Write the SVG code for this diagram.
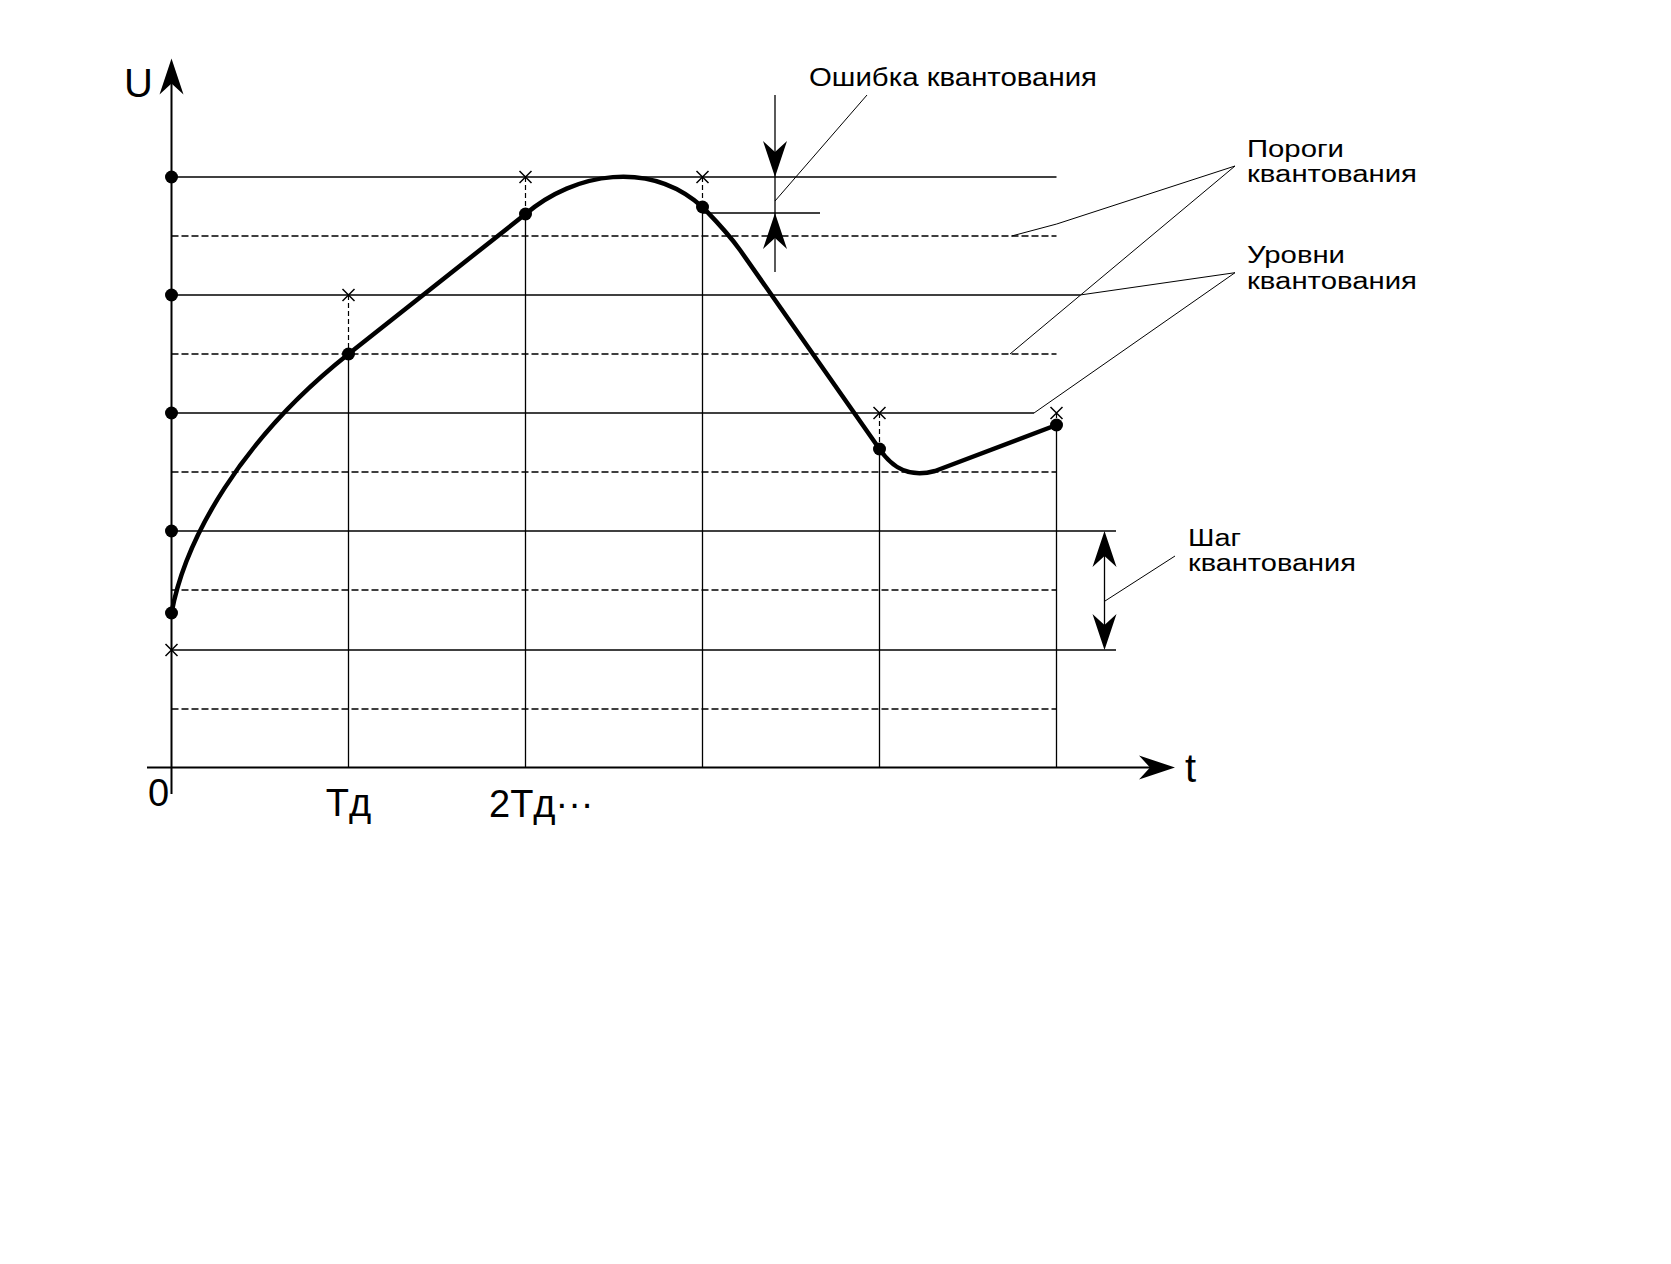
<svg xmlns="http://www.w3.org/2000/svg" xmlns:xlink="http://www.w3.org/1999/xlink" width="1671" height="1264" viewBox="0 0 1671 1264">
<style>
.bg{fill:#fff}
.axis{stroke:#000;stroke-width:2;fill:none}
.grid{stroke:#000;stroke-width:1.5;fill:none}
.dash{stroke:#000;stroke-width:1.3;fill:none;stroke-dasharray:7 3}
.vdash{stroke:#000;stroke-width:1.2;fill:none;stroke-dasharray:5 3}
.vert{stroke:#000;stroke-width:1.3;fill:none}
.lead{stroke:#000;stroke-width:1;fill:none}
.curve{stroke:#000;stroke-width:4.5;fill:none;stroke-linejoin:round;stroke-linecap:round}
.dot{fill:#000}
.cross{stroke:#000;stroke-width:1.5;fill:none}
.ah{fill:#000}
.lbl{font-family:"Liberation Sans",Arial,sans-serif;font-size:23px;fill:#000}
.ax{font-family:"Liberation Sans",Arial,sans-serif;font-size:38px;fill:#000}
</style>
<defs>
<path id="ah" d="M0,0 L12,36 L0,25 L-12,36 Z"/>
<path id="cr" d="M-6,-6 L6,6 M-6,6 L6,-6"/>
</defs>
<rect class="bg" x="0" y="0" width="1671" height="1264"/>

<g id="grid">
<line class="grid" x1="171.5" y1="177" x2="1056.5" y2="177"/>
<line class="dash" x1="171.5" y1="236" x2="1056.5" y2="236"/>
<line class="grid" x1="171.5" y1="295" x2="1080" y2="295"/>
<line class="dash" x1="171.5" y1="354" x2="1056.5" y2="354"/>
<line class="grid" x1="171.5" y1="413" x2="1034" y2="413"/>
<line class="dash" x1="171.5" y1="472" x2="1056.5" y2="472"/>
<line class="grid" x1="171.5" y1="531" x2="1116" y2="531"/>
<line class="dash" x1="171.5" y1="590" x2="1056.5" y2="590"/>
<line class="grid" x1="171.5" y1="650" x2="1116" y2="650"/>
<line class="dash" x1="171.5" y1="709" x2="1056.5" y2="709"/>
<line class="vert" x1="348.5" y1="354" x2="348.5" y2="768"/>
<line class="vert" x1="525.5" y1="214" x2="525.5" y2="768"/>
<line class="vert" x1="702.5" y1="207" x2="702.5" y2="768"/>
<line class="vert" x1="879.5" y1="449" x2="879.5" y2="768"/>
<line class="vert" x1="1056.5" y1="425" x2="1056.5" y2="768"/>
<line class="vdash" x1="348.5" y1="295" x2="348.5" y2="354"/>
<line class="vdash" x1="525.5" y1="177" x2="525.5" y2="214"/>
<line class="vdash" x1="702.5" y1="177" x2="702.5" y2="207"/>
<line class="vdash" x1="879.5" y1="413" x2="879.5" y2="449"/>
<line class="vdash" x1="1056.5" y1="413" x2="1056.5" y2="425"/>
</g>

<g id="axes">
<line class="axis" x1="171.5" y1="75" x2="171.5" y2="794"/>
<line class="axis" x1="147" y1="767.5" x2="1160" y2="767.5"/>
<use href="#ah" class="ah" transform="translate(171.5,58.5)"/>
<use href="#ah" class="ah" transform="translate(1175,767.5) rotate(90)"/>
<text class="ax" x="124" y="96.5" style="font-size:40px">U</text>
<text class="ax" x="1185" y="782" style="font-size:40px">t</text>
<text class="ax" x="148" y="806">0</text>
<text class="ax" x="348.5" y="816" text-anchor="middle">Тд</text>
<text class="ax" x="489" y="816.5">2Тд···</text>
</g>

<g id="signal">
<path class="curve" d="M171.5 613 C 185 540, 240 440, 348.5 354 L 525.5 214 C 575 172, 650 160, 702.5 207 C 715 220, 727 232, 740 250 L 879.5 449 C 893 469, 910 478, 935 471 L 1056.5 425"/>
</g>

<g id="markers">
<circle class="dot" cx="171.5" cy="177" r="6.5"/>
<circle class="dot" cx="171.5" cy="295" r="6.5"/>
<circle class="dot" cx="171.5" cy="413" r="6.5"/>
<circle class="dot" cx="171.5" cy="531" r="6.5"/>
<circle class="dot" cx="171.5" cy="613" r="6.5"/>
<circle class="dot" cx="348.5" cy="354" r="6.5"/>
<circle class="dot" cx="525.5" cy="214" r="6.5"/>
<circle class="dot" cx="702.5" cy="207" r="6.5"/>
<circle class="dot" cx="879.5" cy="449" r="6.5"/>
<circle class="dot" cx="1056.5" cy="425" r="6.5"/>
<use href="#cr" class="cross" transform="translate(171.5,650)"/>
<use href="#cr" class="cross" transform="translate(348.5,295)"/>
<use href="#cr" class="cross" transform="translate(525.5,177)"/>
<use href="#cr" class="cross" transform="translate(702.5,177)"/>
<use href="#cr" class="cross" transform="translate(879.5,413)"/>
<use href="#cr" class="cross" transform="translate(1056.5,413)"/>
</g>

<g id="error-mark">
<line class="grid" x1="702.5" y1="213" x2="820" y2="213"/>
<line class="vert" x1="775" y1="95" x2="775" y2="272"/>
<use href="#ah" class="ah" transform="translate(775,177) rotate(180)"/>
<use href="#ah" class="ah" transform="translate(775,213)"/>
</g>

<g id="step-mark">
<line class="vert" x1="1104.5" y1="540" x2="1104.5" y2="641"/>
<use href="#ah" class="ah" transform="translate(1104.5,531)"/>
<use href="#ah" class="ah" transform="translate(1104.5,650) rotate(180)"/>
</g>

<g id="connectors">
<line class="lead" x1="775" y1="201" x2="867" y2="95"/>
<polyline class="lead" points="1011.7,236 1056.7,224 1235,166"/>
<line class="lead" x1="1235" y1="166" x2="1010" y2="354"/>
<line class="lead" x1="1235" y1="272.7" x2="1080" y2="295"/>
<line class="lead" x1="1235" y1="272.7" x2="1034" y2="413"/>
<line class="lead" x1="1175" y1="556" x2="1105" y2="601"/>
</g>

<g id="label-error">
<text class="lbl" x="809" y="86" style="font-size:25px" textLength="288" lengthAdjust="spacingAndGlyphs">Ошибка квантования</text>
</g>
<g id="label-thresholds">
<text class="lbl" x="1247" y="156.5" textLength="97" lengthAdjust="spacingAndGlyphs">Пороги</text>
<text class="lbl" x="1247" y="182" textLength="170" lengthAdjust="spacingAndGlyphs">квантования</text>
</g>
<g id="label-levels">
<text class="lbl" x="1247" y="263" textLength="98" lengthAdjust="spacingAndGlyphs">Уровни</text>
<text class="lbl" x="1247" y="288.5" textLength="170" lengthAdjust="spacingAndGlyphs">квантования</text>
</g>
<g id="label-step">
<text class="lbl" x="1188" y="546" textLength="53" lengthAdjust="spacingAndGlyphs">Шаг</text>
<text class="lbl" x="1188" y="571" textLength="168" lengthAdjust="spacingAndGlyphs">квантования</text>
</g>
</svg>
